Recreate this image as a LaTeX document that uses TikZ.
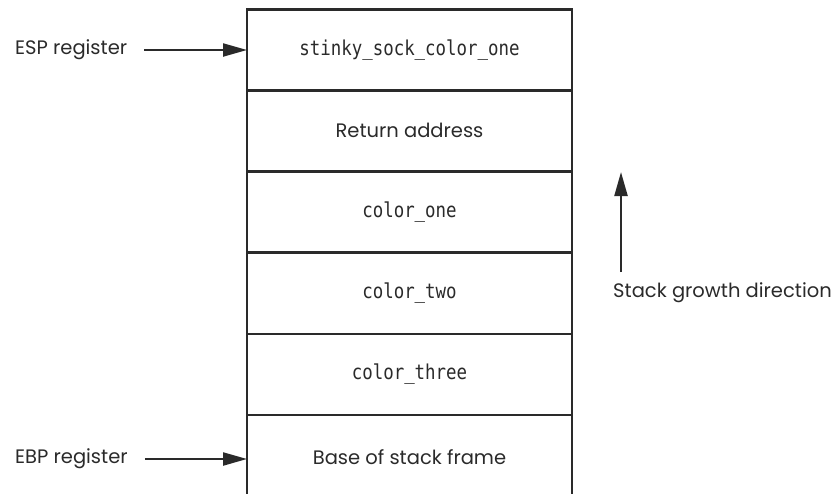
\documentclass[tikz,border=0pt]{standalone}
\usepackage{fontspec}
\setmainfont{Poppins}
\newfontfamily\monof[FakeStretch=0.85]{DejaVu Sans Mono}
\usetikzlibrary{arrows.meta}
\definecolor{ink}{HTML}{2A2A2A}
\begin{document}
\begin{tikzpicture}[x=1pt,y=-1pt,
  cell/.style={draw=ink,line width=2.6pt,minimum width=325pt,minimum height=81pt,inner sep=0pt,outer sep=0pt,text=ink},
  opencell/.style={minimum width=325pt,minimum height=81pt,inner sep=0pt,outer sep=0pt,text=ink},
  lbl/.style={font=\fontsize{19.5}{23}\selectfont,text=ink,inner sep=0pt},
  mono/.style={font=\monof\fontsize{20.5}{24}\selectfont},
  sans/.style={font=\fontsize{19.5}{23}\selectfont},
  arr/.style={draw=ink,line width=2.2pt,-{Triangle[length=24pt,width=13pt]}}]
\useasboundingbox (0,0) rectangle (837,493);
\node[cell,mono] (c1) at (409.5,50) {stinky\_sock\_color\_one};
\node[cell,sans] (c2) at (409.5,130.5) {Return address};
\node[cell,mono] (c3) at (409.5,212) {color\_one};
\node[cell,mono] (c4) at (409.5,293.5) {color\_two};
\node[cell,mono] (c5) at (409.5,374.5) {color\_three};
\node[opencell,sans] (c6) at (409.5,457) {Base of stack frame};
\coordinate (bl) at (247,494);
\coordinate (br) at (572,494);
\draw[draw=ink,line width=2.6pt] (bl) -- (c5.south west) -- (c5.south east) -- (br);
\node[lbl,anchor=west] (esp) at (15,50) {ESP register};
\node[lbl,anchor=west] (ebp) at (15,459) {EBP register};
\draw[arr,shorten <=17pt] (esp.east) -- (esp.east -| c1.west);
\draw[arr,shorten <=17pt] (ebp.east) -- (ebp.east -| c6.west);
\coordinate (g1) at (621,272);
\coordinate (g2) at (621,172);
\draw[arr] (g1) -- (g2);
\node[lbl,anchor=west] (sg) at (613,293) {Stack growth direction};
\end{tikzpicture}
\end{document}
